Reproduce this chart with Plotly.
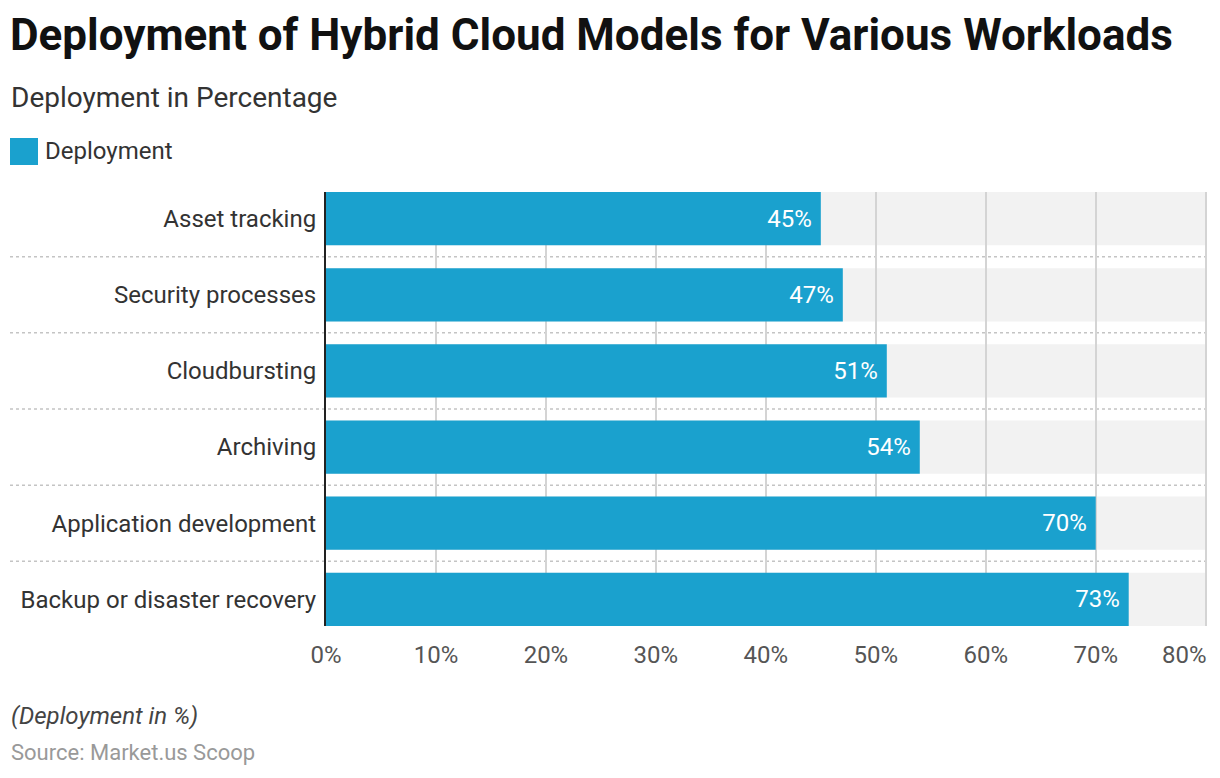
import plotly.graph_objects as go

categories = ["Asset tracking", "Security processes", "Cloudbursting", "Archiving",
              "Application development", "Backup or disaster recovery"]
deployment = [45, 47, 51, 54, 70, 73]
tick_values = [0, 10, 20, 30, 40, 50, 60, 70, 80]
tick_labels = ["0%", "10%", "20%", "30%", "40%", "50%", "60%", "70%", "80%"]
axis_max = 80

BLUE = "#1aa1ce"
FONT = "Roboto"
W, H = 1220, 778
L, R, T, B = 326, 13, 192, 152
pw, ph = W - L - R, H - T - B


def px_x(x):
    return (x - L) / pw


def px_y(y):
    return (H - B - y) / ph


fig = go.Figure()
fig.add_trace(go.Bar(
    y=categories, x=deployment, orientation="h",
    marker=dict(color=BLUE, line=dict(width=0)),
    text=[f"{v}%\u00a0" for v in deployment],
    textposition="inside", insidetextanchor="end",
    textfont=dict(color="white", size=24, family=FONT),
    constraintext="none",
    name="Deployment", showlegend=False,
    hoverinfo="skip",
))

shapes = []
half = 0.35
for i, _ in enumerate(categories):
    shapes.append(dict(type="rect", xref="x", yref="y", x0=0, x1=axis_max,
                       y0=i - half, y1=i + half, fillcolor="#f2f2f2",
                       line=dict(width=0), layer="below"))
for i in range(len(categories) - 1):
    shapes.append(dict(type="line", xref="paper", yref="y", x0=px_x(10), x1=1,
                       y0=i + 0.5, y1=i + 0.5,
                       line=dict(color="#c4c4c4", width=1.5, dash="dot"), layer="below"))
# legend swatch
shapes.append(dict(type="rect", xref="paper", yref="paper",
                   x0=px_x(10), x1=px_x(38), y0=px_y(165), y1=px_y(138),
                   fillcolor=BLUE, line=dict(width=0)))

tick_font = dict(size=24, color="#555555", family=FONT)

annotations = [
    dict(text="<b>Deployment of Hybrid Cloud Models for Various Workloads</b>",
         x=px_x(8), y=px_y(35), xref="paper", yref="paper", xanchor="left", yanchor="middle",
         showarrow=False, font=dict(size=44, color="#111111", family=FONT)),
    dict(text="Deployment in Percentage",
         x=px_x(9), y=px_y(97), xref="paper", yref="paper", xanchor="left", yanchor="middle",
         showarrow=False, font=dict(size=28, color="#333333", family=FONT)),
    dict(text="Deployment",
         x=px_x(43), y=px_y(151), xref="paper", yref="paper", xanchor="left", yanchor="middle",
         showarrow=False, font=dict(size=24, color="#333333", family=FONT)),
    dict(text="<i>(Deployment in %)</i>",
         x=px_x(9), y=px_y(716), xref="paper", yref="paper", xanchor="left", yanchor="middle",
         showarrow=False, font=dict(size=24, color="#444444", family=FONT)),
    dict(text="Source: Market.us Scoop",
         x=px_x(9), y=px_y(752), xref="paper", yref="paper", xanchor="left", yanchor="middle",
         showarrow=False, font=dict(size=22, color="#999999", family=FONT)),
    # last tick label, right-aligned to its tick so that it stays inside the page
    dict(text=tick_labels[-1], x=tick_values[-1], xref="x", y=px_y(655), yref="paper",
         xanchor="right", yanchor="middle", xshift=3, showarrow=False, font=tick_font),
]

fig.update_layout(
    width=W, height=H,
    margin=dict(l=L, r=R, t=T, b=B, pad=0, autoexpand=False),
    paper_bgcolor="white", plot_bgcolor="white",
    bargap=0.30,
    shapes=shapes, annotations=annotations,
    font=dict(family=FONT),
    xaxis=dict(range=[0, axis_max + 0.12], tickvals=tick_values,
               ticktext=tick_labels[:-1] + [""],
               showgrid=True, gridcolor="#d4d4d4", gridwidth=2,
               zeroline=False, showline=False, ticks="", automargin=False,
               tickfont=tick_font, ticklabelstandoff=12, fixedrange=True),
    yaxis=dict(range=[len(categories) - 1 + half, -half], type="category",
               showgrid=False, zeroline=False, showline=True, linecolor="#222222",
               linewidth=2, ticks="", ticklabelstandoff=3, automargin=False,
               tickfont=dict(size=24, color="#333333", family=FONT), fixedrange=True),
)

fig.write_html("out.html", config={"displayModeBar": False},
               post_script="document.body.style.margin='0';document.body.style.overflow='hidden';")
